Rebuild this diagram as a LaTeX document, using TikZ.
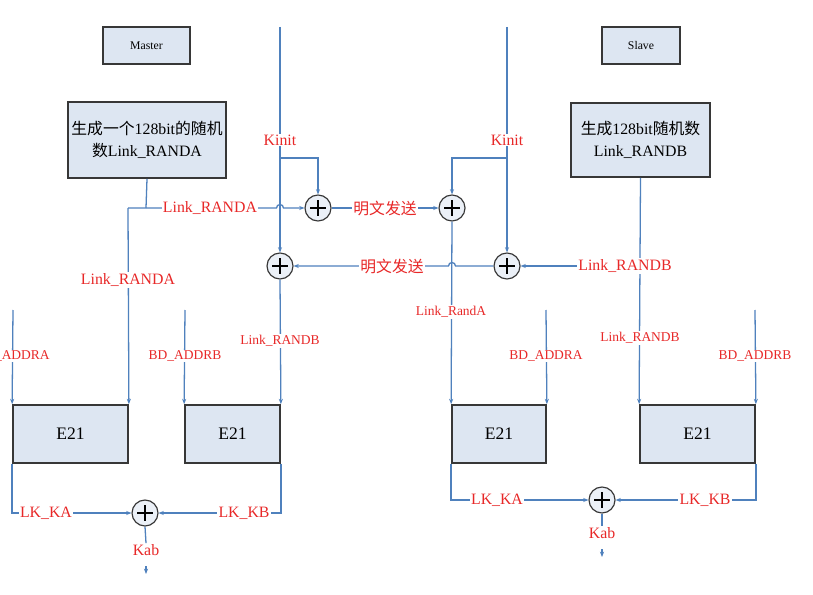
\documentclass[tikz,border=0pt]{standalone}
\usepackage{fontspec}
\setmainfont{Liberation Serif}
\newfontfamily\cjk{Noto Sans CJK SC}
\usetikzlibrary{arrows.meta,positioning,calc}
\definecolor{lineblue}{RGB}{79,129,189}
\definecolor{labelred}{RGB}{232,40,40}
\definecolor{boxfill}{RGB}{221,230,242}
\definecolor{boxedge}{RGB}{55,55,55}

\begin{document}
\begin{tikzpicture}[
    x=0.03cm, y=-0.03cm,
    blk/.style={rectangle, draw=boxedge, line width=1.5pt, fill=boxfill,
                align=center, inner sep=1pt},
    xorop/.style={circle, draw=boxedge, line width=1pt, fill=boxfill!60,
                  minimum size=0.78cm, inner sep=0pt,
                  path picture={\draw[black, line width=0.9pt]
                    ($(path picture bounding box.center)+(-0.23cm,0)$) --
                    ($(path picture bounding box.center)+(0.23cm,0)$)
                    ($(path picture bounding box.center)+(0,-0.23cm)$) --
                    ($(path picture bounding box.center)+(0,0.23cm)$);}},
    wire/.style={lineblue, line width=1.1pt},
    arrow/.style={wire, -{Stealth[length=4.5pt,width=3.5pt]}},
    lbl/.style={font=\fontsize{13.5}{15}\selectfont, text=labelred,
                fill=white, inner sep=1pt},
    slbl/.style={lbl, font=\fontsize{11.5}{13}\selectfont},
]
\fill[white] (0,0) rectangle (813,595);
\useasboundingbox (0,0) rectangle (813,595);

% boxes
\node[blk, minimum width=2.61cm, minimum height=1.11cm,
      font=\fontsize{10}{12}\selectfont] (master) at (146.5,45.5) {Master};
\node[blk, minimum width=2.34cm, minimum height=1.11cm,
      font=\fontsize{10}{12}\selectfont] (slave) at (641,45.5) {Slave};
\node[blk, minimum width=4.74cm, minimum height=2.28cm,
      font=\fontsize{13.5}{19}\selectfont] (genA) at (147,140)
      {{\cjk 生成一个}128bit{\cjk 的随机}\\{\cjk 数}Link\_RANDA};
\node[blk, minimum width=4.17cm, minimum height=2.22cm,
      font=\fontsize{13.5}{19}\selectfont] (genB) at (640.5,140)
      {{\cjk 生成}128bit{\cjk 随机数}\\Link\_RANDB};
\node[blk, minimum width=3.45cm, minimum height=1.74cm,
      font=\fontsize{15}{17}\selectfont] (e21a1) at (70.5,434) {E21};
\node[blk, minimum width=2.85cm, minimum height=1.74cm,
      font=\fontsize{15}{17}\selectfont] (e21a2) at (232.5,434) {E21};
\node[blk, minimum width=2.82cm, minimum height=1.74cm,
      font=\fontsize{15}{17}\selectfont] (e21b1) at (499,434) {E21};
\node[blk, minimum width=3.45cm, minimum height=1.74cm,
      font=\fontsize{15}{17}\selectfont] (e21b2) at (697.5,434) {E21};

% xor
\node[xorop] (xorA1) at (318,208) {};
\node[xorop] (xorB1) at (452,208) {};
\node[xorop] (xorA2) at (280,266) {};
\node[xorop] (xorB2) at (507,266) {};
\node[xorop] (xorA3) at (145,513) {};
\node[xorop] (xorB3) at (602,500) {};

% free ends
\coordinate (kinA) at (280,27);
\coordinate (kinB) at (507,27);
\coordinate (brA) at (280,158);
\coordinate (brB) at (507,158);
\coordinate (jA) at (146,208);
\coordinate (cornerA) at (128,208);
\coordinate (jB) at (640,266);
\coordinate (addrA1) at (13,310);
\coordinate (addrB1) at (185,310);
\coordinate (addrA2) at (546,310);
\coordinate (addrB2) at (755,310);
\coordinate (kabA1) at (146,566);
\coordinate (kabA2) at (146,574);
\coordinate (kabB1) at (602,549);
\coordinate (kabB2) at (602,557);

% Kinit
\draw[arrow] (kinA) -- (xorA2.north);
\draw[arrow] (brA) -| (xorA1.north);
\draw[arrow] (kinB) -- (xorB2.north);
\draw[arrow] (brB) -| (xorB1.north);

% random numbers
\draw[wire] (genA.south) -- (jA);
\draw[arrow] (cornerA) -- (276.5,208) arc[start angle=180, end angle=360, radius=3.5]
    -- (xorA1.west);
\draw[arrow] (cornerA) -- (e21a1.north east);
\draw[arrow] (xorA1.east) -- (xorB1.west);
\draw[arrow] (genB.south) -- (e21b2.north west);
\draw[arrow] (jB) -- (xorB2.east);
\draw[arrow] (xorB2.west) -- (455.5,266) arc[start angle=0, end angle=-180, radius=3.5]
    -- (xorA2.east);
\draw[arrow] (xorB1.south) -- (e21b1.north west);
\draw[arrow] (xorA2.south) -- (e21a2.north east);

% addresses
\draw[arrow] (addrA1) -- (e21a1.north west);
\draw[arrow] (addrB1) -- (e21a2.north west);
\draw[arrow] (addrA2) -- (e21b1.north east);
\draw[arrow] (addrB2) -- (e21b2.north east);

% link keys
\draw[arrow] (e21a1.south west) |- (xorA3.west);
\draw[arrow] (e21a2.south east) |- (xorA3.east);
\draw[arrow] (e21b1.south west) |- (xorB3.west);
\draw[arrow] (e21b2.south east) |- (xorB3.east);

% labels
\node[lbl] (kinitA) at (280,140) {Kinit};
\node[lbl] (kinitB) at (507,140) {Kinit};
\node[lbl] (randA1) at (210,208) {Link\_RANDA};
\node[lbl] (randA2) at (128,280) {Link\_RANDA};
\node[lbl] (plainA) at (385,208) {\cjk 明文发送};
\node[lbl] (plainB) at (392,266) {\cjk 明文发送};
\node[lbl] (randB1) at (625,266) {Link\_RANDB};
\node[slbl] (randB2) at (280,341) {Link\_RANDB};
\node[slbl] (randA3) at (451,312) {Link\_RandA};
\node[slbl] (randB3) at (640,338) {Link\_RANDB};
\node[slbl] (addrLA1) at (13,356) {BD\_ADDRA};
\node[slbl] (addrLB1) at (185,356) {BD\_ADDRB};
\node[slbl] (addrLA2) at (546,356) {BD\_ADDRA};
\node[slbl] (addrLB2) at (755,356) {BD\_ADDRB};
\node[lbl] (lkA1) at (46,513) {LK\_KA};
\node[lbl] (lkB1) at (244,513) {LK\_KB};
\node[lbl] (lkA2) at (497,500) {LK\_KA};
\node[lbl] (lkB2) at (705,500) {LK\_KB};

% Kab
\node[lbl, fill=none] (kabA) at (146,550) {Kab};
\node[lbl, fill=none] (kabB) at (602,533) {Kab};
\draw[wire] (xorA3.south) -- (kabA.north);
\draw[wire] (xorB3.south) -- (kabB.north);
\draw[arrow] (kabA1) -- (kabA2);
\draw[arrow] (kabB1) -- (kabB2);
\end{tikzpicture}
\end{document}
